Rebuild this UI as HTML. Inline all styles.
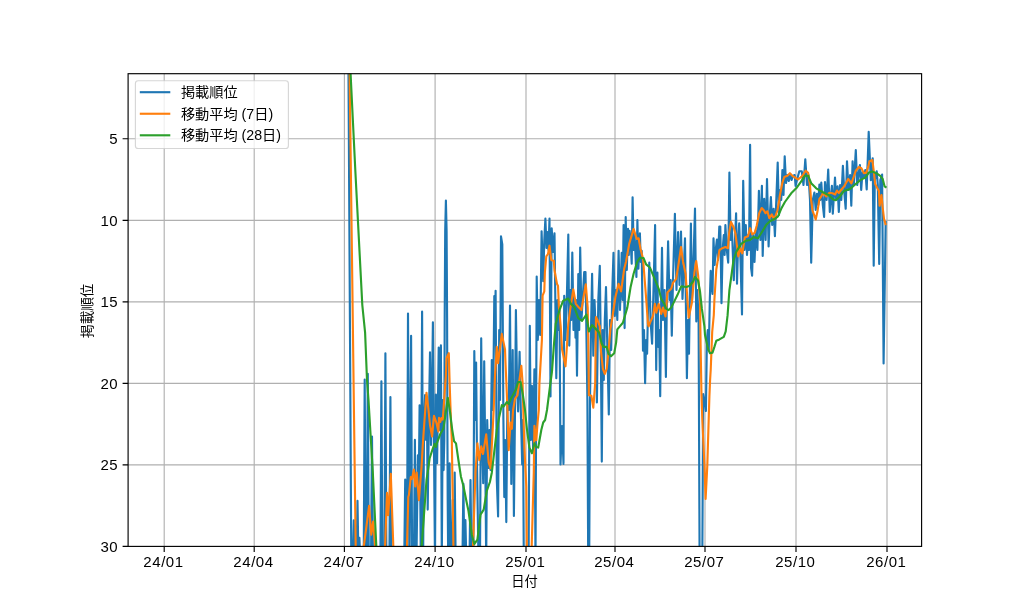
<!DOCTYPE html>
<html lang="ja"><head><meta charset="utf-8"><title>掲載順位</title>
<style>html,body{margin:0;padding:0;background:#fff}body{width:1024px;height:614px;overflow:hidden}</style>
</head><body>
<svg width="1024" height="614" viewBox="0 0 1024 614" style="display:block">
<rect width="1024" height="614" fill="#fff"/>
<defs><clipPath id="ax"><rect x="128.1" y="73.7" width="793.5" height="472.7"/></clipPath></defs>
<path d="M164.2 73.7V546.4M254.2 73.7V546.4M344.4 73.7V546.4M435.1 73.7V546.4M526.0 73.7V546.4M615.0 73.7V546.4M705.0 73.7V546.4M796.0 73.7V546.4M887.0 73.7V546.4M128.1 138.8H921.6M128.1 220.35H921.6M128.1 301.85H921.6M128.1 383.4H921.6M128.1 464.9H921.6" stroke="#b0b0b0" stroke-width="1.14" fill="none"/>
<g clip-path="url(#ax)">
<polyline points="348.4,57.0 351.3,562.6 352.8,562.6 353.8,520.2 354.8,562.6 356.5,562.6 357.5,500.8 358.5,562.6 359.4,537.8 360.4,562.6 363.7,562.6 364.7,379.6 365.7,562.6 366.8,562.6 367.8,373.7 368.8,562.6 371.0,562.6 372.0,436.5 373.0,562.6 380.4,562.6 381.4,381.2 382.4,562.6 384.4,562.6 385.4,353.2 386.4,562.6 389.4,562.6 390.4,397.0 391.4,562.6 404.2,562.6 405.2,479.5 406.2,562.6 407.0,562.6 408.0,313.5 409.5,562.6 411.1,335.7 412.1,562.6 413.9,562.6 414.9,439.9 415.9,562.6 416.4,562.6 417.9,455.3 418.6,500.0 419.6,405.2 420.8,562.6 422.1,311.5 423.1,562.6 424.1,420.0 425.1,395.0 426.1,440.0 426.9,400.0 427.7,509.6 428.9,420.0 430.0,352.4 431.0,445.0 431.9,400.0 432.9,322.3 433.9,440.0 435.0,562.6 435.9,394.5 437.1,463.2 438.7,347.6 439.8,430.0 440.9,345.4 441.8,562.6 442.8,400.0 443.6,470.1 444.3,440.0 444.7,318.0 445.2,231.0 445.9,200.5 446.6,231.0 447.1,318.0 447.4,430.0 447.7,500.0 448.2,562.6 448.7,562.6 449.6,463.2 450.6,562.6 451.7,562.6 452.7,500.0 453.7,562.6 454.7,472.6 455.7,562.6 462.4,562.6 463.4,483.9 464.4,562.6 465.4,520.0 466.4,562.6 469.5,562.6 470.5,480.0 471.5,562.6 473.3,562.6 474.3,351.0 475.2,420.0 476.1,362.6 477.1,470.0 478.5,562.6 480.0,562.6 481.2,338.3 482.2,440.0 483.2,483.3 484.2,361.3 485.2,450.0 486.2,562.6 487.2,420.0 488.5,468.0 489.5,430.0 490.5,470.0 491.8,360.0 492.8,410.0 493.4,380.0 494.3,296.0 494.9,330.0 495.6,290.7 496.8,480.0 498.1,516.5 499.2,330.0 500.0,400.0 501.0,236.3 502.3,244.5 503.4,420.0 504.3,497.1 505.2,440.0 506.3,522.1 507.4,400.0 508.8,410.0 510.0,305.5 511.3,484.0 512.7,350.0 513.9,516.0 514.9,420.0 515.9,310.1 517.0,380.0 518.1,411.4 519.6,351.9 520.8,410.0 522.2,464.5 523.0,420.0 523.8,562.6 528.6,562.6 529.8,325.8 530.8,440.0 531.9,385.7 533.1,450.0 534.4,369.4 535.5,562.6 536.7,276.5 537.8,340.0 539.0,300.0 540.2,335.0 541.6,231.3 543.2,281.3 544.3,240.0 545.4,218.5 546.5,248.0 547.5,232.0 548.5,250.0 549.5,218.5 550.5,396.4 551.7,228.2 553.0,252.0 554.5,233.2 556.3,378.2 557.5,300.0 558.5,330.0 559.5,310.0 560.5,464.5 562.0,426.0 563.5,463.9 564.2,295.7 565.5,340.0 566.8,300.0 568.3,234.5 569.3,345.6 570.5,290.0 571.3,320.0 572.3,252.6 573.5,330.0 574.5,300.0 575.5,337.7 576.0,300.0 577.0,375.7 578.3,274.0 579.2,330.0 580.2,247.6 581.5,320.0 584.2,272.0 585.5,272.0 587.4,400.0 588.2,562.6 589.2,562.6 590.0,400.0 591.0,330.0 592.1,273.7 593.3,355.7 594.5,300.0 595.7,330.0 596.9,402.5 598.3,300.0 599.8,265.7 600.8,350.0 601.8,461.6 602.8,330.0 603.8,380.0 604.8,320.0 606.0,287.0 607.4,350.0 608.8,414.5 610.0,320.0 611.2,350.0 612.3,290.0 613.5,252.7 614.8,316.0 616.0,290.0 617.3,320.0 618.6,250.8 620.0,310.0 621.7,252.7 622.6,300.0 623.6,225.1 624.6,328.1 625.7,217.0 626.8,270.0 628.0,228.9 628.8,255.0 629.6,230.8 630.6,240.0 631.7,263.8 632.6,197.3 633.6,250.0 634.6,235.0 636.4,276.9 637.4,220.1 638.4,268.8 639.9,233.2 640.8,262.0 641.7,250.8 643.0,350.7 644.0,330.0 645.1,383.3 646.1,340.0 647.1,353.8 648.2,300.0 649.3,262.5 650.5,320.0 652.1,343.8 653.5,290.0 655.1,225.1 656.2,370.1 657.4,272.6 658.4,347.0 659.2,330.0 660.2,396.2 661.2,300.0 662.0,247.7 663.0,320.0 664.5,290.0 665.9,377.0 667.0,290.0 668.1,241.4 669.5,300.0 670.6,280.0 671.8,335.7 673.0,280.0 674.9,213.8 676.5,290.0 678.1,232.0 679.5,285.0 681.0,231.6 682.5,298.9 683.7,270.0 685.0,238.3 686.9,378.3 688.0,320.0 689.0,353.8 690.9,223.6 692.0,300.0 693.5,260.0 695.0,208.6 696.3,321.4 697.3,290.0 698.6,320.0 699.6,562.6 702.3,562.6 703.2,394.0 704.5,400.0 705.9,411.0 706.9,340.0 707.8,330.0 708.8,350.0 709.8,300.0 710.7,270.7 711.6,285.0 712.5,293.9 713.5,238.3 714.6,265.0 715.7,250.0 716.9,239.5 718.0,260.0 719.3,226.6 720.3,226.6 721.5,303.3 722.6,250.0 723.8,235.0 724.6,255.0 725.4,225.1 726.8,250.0 728.2,262.6 729.4,172.6 730.6,240.0 731.8,225.0 733.8,280.1 735.0,240.0 736.1,213.2 737.0,283.8 738.2,240.0 739.2,223.2 740.5,260.0 742.0,314.5 743.2,180.7 744.5,250.0 745.8,225.0 747.0,255.0 748.2,235.0 749.0,250.0 750.1,144.8 751.1,268.0 752.1,275.7 753.2,235.0 754.5,262.0 755.8,230.0 757.4,250.0 758.9,190.8 760.4,240.0 761.9,185.8 762.7,256.0 764.2,198.9 765.6,240.0 767.0,179.1 768.6,246.4 769.8,215.0 770.9,197.0 772.2,225.0 773.6,208.9 774.9,236.3 776.3,200.0 777.7,162.6 779.0,215.0 780.2,190.0 781.2,200.0 782.4,170.1 783.5,195.0 784.7,156.3 786.0,183.0 787.4,175.0 788.8,181.0 790.2,174.0 791.6,180.0 793.0,176.0 794.7,175.0 795.6,186.0 797.5,178.0 799.3,171.3 801.8,171.3 803.5,185.0 805.3,159.4 807.0,185.0 808.5,175.0 810.0,200.0 811.2,262.7 812.8,200.0 814.4,192.6 815.7,210.0 816.9,193.9 818.2,205.0 819.4,184.5 820.3,200.0 821.3,182.6 822.8,205.0 824.1,216.9 825.0,182.0 826.6,200.0 828.2,169.5 829.8,211.9 831.0,195.0 831.9,185.8 832.8,213.8 835.0,177.6 836.2,200.0 837.6,186.4 838.8,211.9 840.1,185.1 841.3,200.0 842.9,165.7 844.5,195.0 845.7,208.8 847.0,161.3 848.5,190.0 850.1,175.1 851.3,205.7 852.6,161.3 853.8,185.0 855.8,150.1 857.2,185.0 858.5,175.0 859.9,165.1 861.2,190.0 862.5,172.0 864.0,178.0 865.3,170.0 866.7,189.5 868.7,131.9 870.8,180.1 872.7,158.2 873.7,265.8 874.8,180.0 876.7,171.4 877.8,185.0 879.2,263.9 880.3,180.0 882.1,174.5 883.6,363.5 885.7,221.0" fill="none" stroke="#1f77b4" stroke-width="2.13" stroke-linejoin="round" stroke-linecap="butt"/>
<polyline points="349.4,57.0 355.9,562.6 363.6,562.6 363.8,546.0 365.7,532.0 369.1,505.8 371.3,534.7 373.2,521.5 375.1,546.0 375.4,562.6 384.9,562.6 385.1,546.0 387.0,492.7 388.2,515.2 390.8,473.9 393.3,546.0 393.6,562.6 406.6,562.6 407.0,546.0 408.3,497.0 408.9,495.0 410.8,477.0 412.0,479.0 413.9,469.5 415.2,486.4 416.7,472.6 418.9,500.2 421.5,467.6 422.7,446.3 424.5,420.0 426.5,392.7 428.5,410.0 430.0,425.0 432.1,436.5 434.0,415.8 436.5,423.0 438.4,431.5 439.0,417.7 440.3,422.0 441.5,418.0 442.8,419.6 444.5,395.0 445.9,375.0 446.5,358.3 448.8,353.2 449.6,382.0 450.9,420.0 451.8,440.0 452.3,472.0 453.4,546.0 453.6,562.6 472.8,562.6 473.0,546.0 475.5,472.0 477.4,443.2 479.3,460.1 481.2,446.3 483.0,453.9 486.2,434.4 488.7,462.6 490.6,468.3 492.4,435.1 493.7,410.0 494.9,377.6 496.8,346.9 498.1,363.2 501.8,333.9 505.0,349.4 505.6,365.0 506.8,392.6 507.5,410.0 508.7,450.1 510.6,422.5 511.9,428.8 513.1,410.0 515.0,398.9 517.5,395.1 521.3,365.7 522.5,381.4 523.3,410.0 524.4,447.6 526.3,486.4 526.9,546.0 527.1,562.6 531.5,562.6 531.7,546.0 533.8,472.0 534.4,425.7 536.3,440.1 537.6,422.5 538.8,410.0 539.4,383.9 541.9,340.0 542.6,295.7 544.3,291.3 544.9,272.0 546.3,256.4 548.0,254.0 549.5,245.7 551.3,260.2 553.8,260.8 554.5,270.0 555.7,277.0 557.0,284.0 558.0,285.7 558.9,306.3 560.7,326.4 562.0,349.0 565.5,366.3 567.0,345.0 568.3,323.9 570.1,310.1 573.3,289.4 575.8,303.8 578.9,307.6 581.4,310.0 583.9,295.0 585.8,284.4 587.7,307.6 588.3,340.0 588.9,395.1 591.4,395.8 593.3,407.7 595.2,383.0 595.7,340.0 596.0,317.0 597.5,320.0 599.8,326.4 601.0,351.3 602.9,368.9 604.8,373.9 606.7,368.9 608.5,351.3 610.4,329.0 612.3,318.0 615.4,297.0 618.6,283.8 621.1,291.4 624.2,268.8 626.1,261.4 629.2,243.9 633.6,228.9 636.7,238.9 638.6,238.3 640.5,248.9 643.0,258.5 646.1,297.6 648.0,323.9 648.6,326.3 651.1,320.2 653.0,316.0 654.9,303.9 656.2,312.7 658.7,303.9 661.2,313.9 663.0,307.6 665.5,316.4 667.4,292.6 671.2,288.8 673.1,282.6 676.2,278.8 678.7,263.0 681.0,247.0 683.1,262.0 685.6,273.8 688.7,317.7 691.9,302.6 694.4,272.6 696.2,261.0 698.1,275.1 700.0,300.0 700.6,345.0 701.5,396.0 702.4,422.0 704.5,466.0 705.6,498.9 707.3,465.8 709.4,396.4 710.1,380.0 710.7,370.0 712.2,332.0 713.8,315.0 714.4,300.0 716.3,269.5 718.8,253.8 719.4,250.2 722.3,248.2 725.4,247.0 727.9,248.2 729.2,232.6 731.0,221.9 733.5,226.9 735.4,233.2 736.7,243.9 738.3,256.4 740.4,248.2 742.3,253.3 744.8,237.6 748.0,236.3 750.1,228.2 752.3,234.5 754.8,232.6 756.7,225.7 759.2,213.2 761.7,208.0 764.0,210.5 765.5,213.2 767.4,211.3 769.3,218.2 771.8,214.4 774.3,219.4 777.4,210.5 779.3,200.0 779.9,195.2 782.4,182.6 784.3,177.0 787.4,175.7 789.9,173.2 793.1,176.4 798.1,179.5 802.5,175.7 805.6,170.7 808.1,172.9 810.0,185.1 811.0,199.0 812.5,210.5 815.7,219.4 817.6,210.7 819.4,199.0 821.3,196.4 822.5,193.9 824.4,194.5 826.3,196.4 829.4,192.7 832.5,193.3 835.1,194.5 837.0,190.5 838.8,193.0 841.4,189.5 843.9,186.8 848.2,178.9 851.4,183.3 853.9,176.4 855.8,170.7 858.9,167.0 861.4,168.2 863.9,173.2 866.4,172.6 868.3,166.4 869.5,161.3 872.4,160.1 873.9,172.6 875.2,183.9 877.1,187.7 878.9,191.0 879.6,205.7 881.5,195.0 882.7,207.5 884.0,218.8 885.8,225.1" fill="none" stroke="#ff7f0e" stroke-width="2.13" stroke-linejoin="round" stroke-linecap="butt"/>
<polyline points="350.4,57.0 350.6,74.0 355.4,172.0 362.3,305.0 365.1,332.6 367.0,380.0 368.5,400.0 372.8,472.0 376.3,546.0 377.0,562.6 420.6,562.6 421.7,546.0 424.6,506.4 426.5,480.1 428.3,468.0 429.6,458.5 432.7,448.8 434.6,443.8 435.9,446.9 437.1,442.5 440.3,434.0 443.4,428.4 445.5,415.0 447.8,397.7 450.0,412.0 452.2,429.6 454.1,441.3 456.0,443.4 458.4,460.0 460.9,476.4 463.4,486.0 466.6,502.0 468.5,511.0 471.8,534.7 474.3,544.1 477.4,539.7 480.5,514.6 483.7,509.6 486.8,490.8 489.9,482.0 491.8,472.7 496.8,430.0 499.3,416.4 501.8,405.2 503.7,406.5 506.8,402.0 508.7,404.0 511.2,398.3 515.6,390.1 518.1,382.0 520.6,382.0 523.1,396.4 525.0,410.0 526.9,428.8 529.4,447.6 531.9,453.2 534.4,443.2 536.3,447.0 538.2,447.6 541.3,430.0 543.2,422.5 545.1,420.0 547.0,410.0 549.5,390.1 552.0,371.3 553.8,346.4 555.7,323.9 559.5,310.1 563.2,300.7 568.3,298.6 570.8,303.8 574.5,307.6 578.3,318.2 582.0,320.8 586.4,314.5 588.9,331.4 592.1,325.1 595.8,329.0 599.1,332.5 601.6,343.2 603.5,346.9 606.7,346.9 608.5,353.8 611.0,356.3 614.2,353.2 616.1,342.6 617.3,329.4 619.8,326.4 622.9,322.7 627.3,307.6 630.5,287.6 633.6,273.8 637.4,261.3 639.9,257.8 643.6,258.1 646.1,264.4 649.9,267.5 653.6,276.3 658.7,288.8 661.2,298.9 664.3,303.9 666.2,308.9 668.7,310.1 671.2,307.6 674.9,300.1 677.4,295.1 681.2,286.3 686.2,287.0 690.0,285.7 693.1,281.3 695.0,276.9 698.1,280.7 700.0,291.4 701.9,308.9 704.4,326.4 705.0,335.0 708.2,349.4 710.0,353.2 712.5,352.6 714.4,346.9 716.3,340.7 719.4,339.4 723.8,336.9 725.7,331.4 727.6,315.2 729.4,290.1 731.5,275.0 733.5,260.2 736.2,252.0 741.1,243.9 746.1,240.7 750.0,240.0 753.6,237.0 758.0,238.2 762.4,231.3 766.1,225.1 769.9,221.3 774.9,218.8 778.0,216.3 781.2,208.8 784.9,202.0 791.2,193.3 796.2,188.3 801.2,181.4 805.0,175.7 808.1,175.7 811.2,183.2 816.2,188.3 822.5,192.0 828.8,195.2 833.2,199.5 835.7,200.2 839.4,197.0 843.8,191.0 850.1,188.9 855.1,184.5 860.2,180.1 865.2,177.6 868.9,172.6 872.1,171.6 876.4,173.2 880.2,175.8 882.7,178.9 884.6,186.4 886.5,187.7" fill="none" stroke="#2ca02c" stroke-width="2.13" stroke-linejoin="round" stroke-linecap="butt"/>
</g>
<rect x="128.1" y="73.7" width="793.5" height="472.7" fill="none" stroke="#000" stroke-width="1.14"/>
<path d="M164.2 546.4v5.5M254.2 546.4v5.5M344.4 546.4v5.5M435.1 546.4v5.5M526.0 546.4v5.5M615.0 546.4v5.5M705.0 546.4v5.5M796.0 546.4v5.5M887.0 546.4v5.5M128.1 138.8h-5.5M128.1 220.35h-5.5M128.1 301.85h-5.5M128.1 383.4h-5.5M128.1 464.9h-5.5M128.1 546.4h-5.5" stroke="#000" stroke-width="1.14" fill="none"/>
<g font-family='"Liberation Sans", "Noto Sans CJK JP", sans-serif' font-size="15" letter-spacing="0.55" fill="#000">
<text x="163.50" y="567.20" text-anchor="middle">24/01</text>
<text x="253.50" y="567.20" text-anchor="middle">24/04</text>
<text x="343.70" y="567.20" text-anchor="middle">24/07</text>
<text x="434.40" y="567.20" text-anchor="middle">24/10</text>
<text x="525.30" y="567.20" text-anchor="middle">25/01</text>
<text x="614.30" y="567.20" text-anchor="middle">25/04</text>
<text x="704.30" y="567.20" text-anchor="middle">25/07</text>
<text x="795.30" y="567.20" text-anchor="middle">25/10</text>
<text x="886.30" y="567.20" text-anchor="middle">26/01</text>
<text x="118.20" y="144.20" text-anchor="end">5</text>
<text x="118.20" y="225.75" text-anchor="end">10</text>
<text x="118.20" y="307.25" text-anchor="end">15</text>
<text x="118.20" y="388.80" text-anchor="end">20</text>
<text x="118.20" y="470.30" text-anchor="end">25</text>
<text x="118.20" y="551.80" text-anchor="end">30</text>
</g>
<g font-family='"Liberation Sans", "Noto Sans CJK JP", sans-serif' font-size="13.6" fill="#000">
<text x="524.55" y="586.1" font-size="13.3" text-anchor="middle">日付</text>
<text transform="translate(92.3,310.75) rotate(-90)" text-anchor="middle">掲載順位</text>
</g>
<rect x="135.4" y="80.7" width="153.0" height="67.8" rx="2.8" fill="#fff" fill-opacity="0.8" stroke="#ccc" stroke-opacity="0.8" stroke-width="1.14"/>
<g font-family='"Liberation Sans", "Noto Sans CJK JP", sans-serif' font-size="14.2" fill="#000">
<path d="M139.8 92.2H170.3" stroke="#1f77b4" stroke-width="2.13"/>
<text x="180.9" y="97.30">掲載順位</text>
<path d="M139.8 113.75H170.3" stroke="#ff7f0e" stroke-width="2.13"/>
<text x="180.9" y="118.85">移動平均 (7日)</text>
<path d="M139.8 135.3H170.3" stroke="#2ca02c" stroke-width="2.13"/>
<text x="180.9" y="140.40">移動平均 (28日)</text>
</g>
</svg>
</body></html>
